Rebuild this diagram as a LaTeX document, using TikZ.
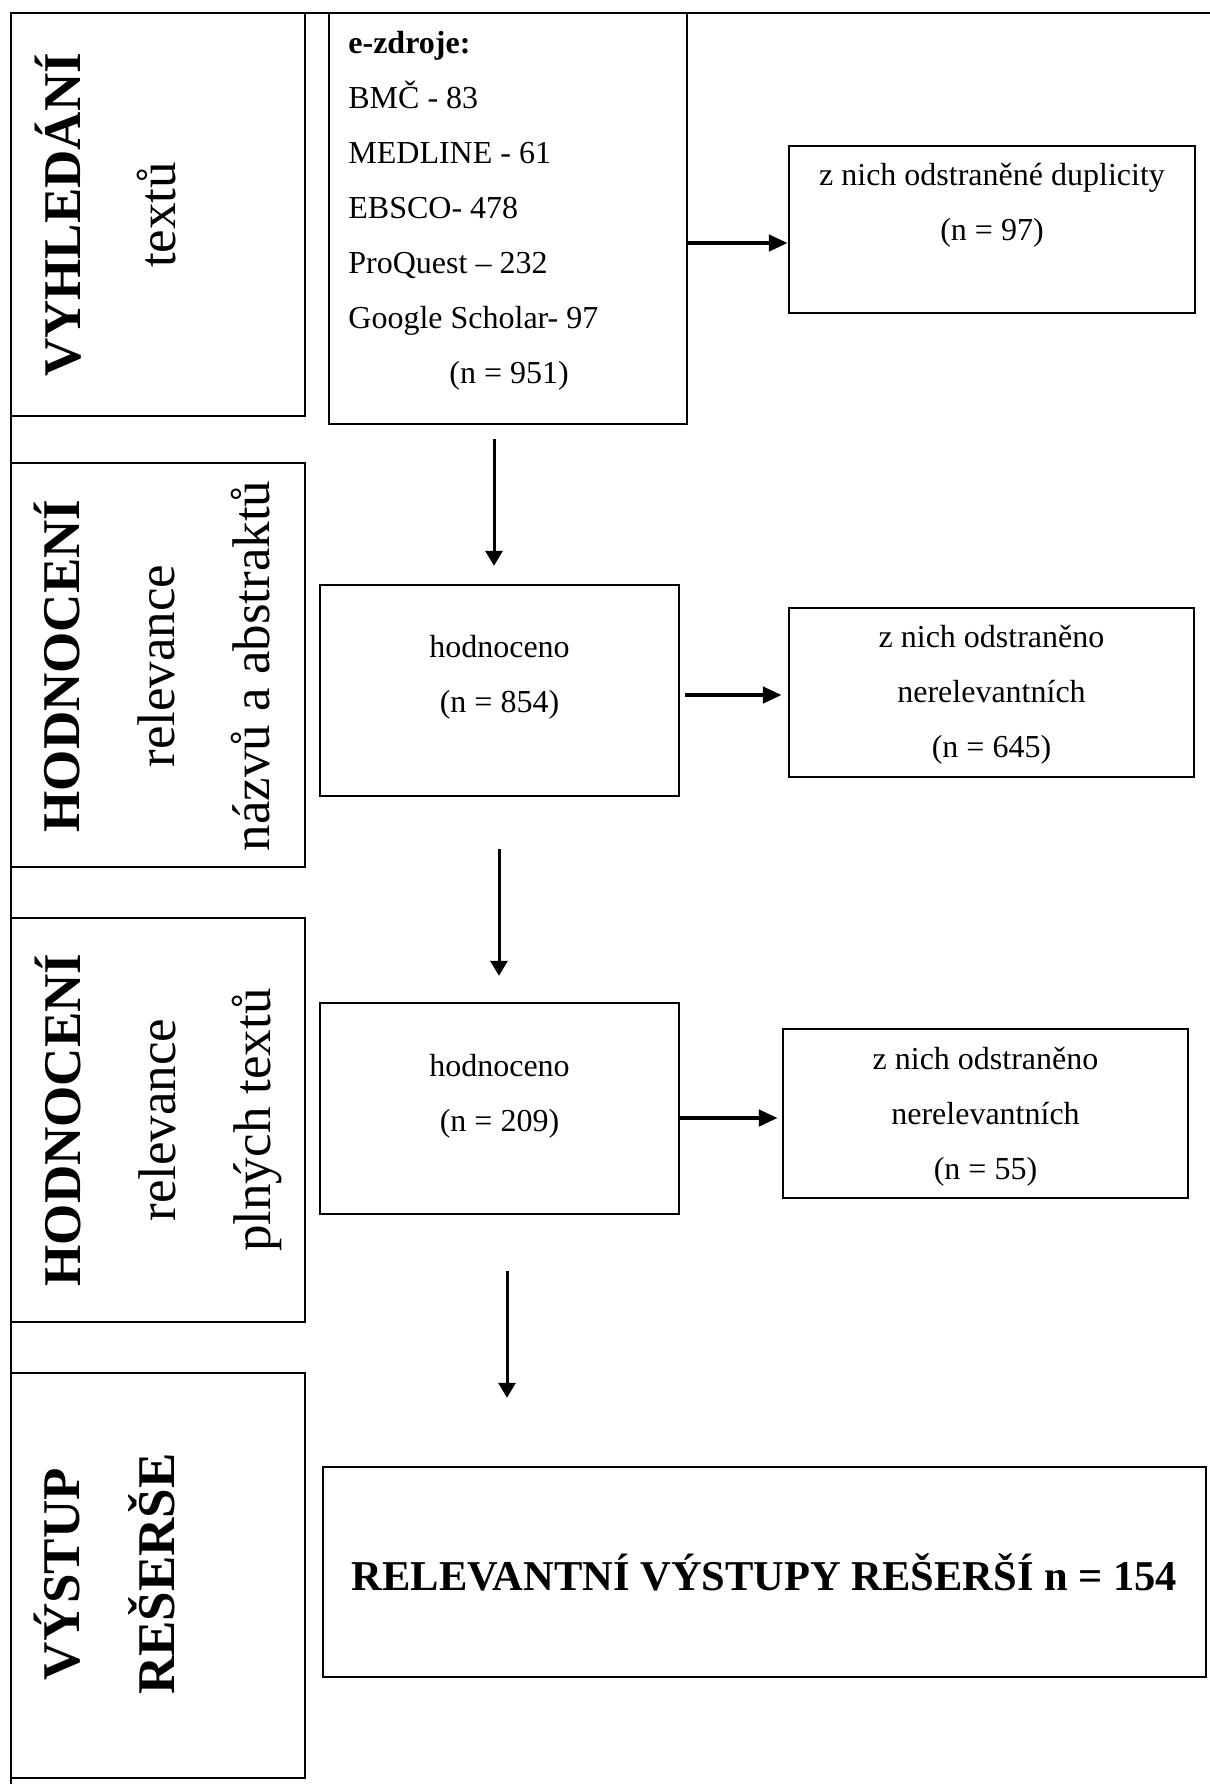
\documentclass[tikz,border=0pt]{standalone}
\usepackage{fontspec}
\setmainfont{Liberation Serif}
\usetikzlibrary{arrows.meta}

\begin{document}
\begin{tikzpicture}[x=0.5pt, y=-0.5pt,
			box/.style={draw, line width=1.2pt, inner sep=0pt},
			txt/.style={align=center, inner sep=0pt, font=\fontsize{16}{27.5}\selectfont},
			stagetxt/.style={rotate=90, align=center, inner sep=0pt, font=\fontsize{26.5}{47.5}\selectfont},
			downarrow/.style={-{Triangle[length=7.5pt,width=8.5pt]}, line width=1.5pt},
			sidearrow/.style={-{Triangle[length=9.5pt,width=8pt]}, line width=2.25pt}]
			\useasboundingbox (0,0) rectangle (1210,1784);
			% frame
			\draw[line width=0.8pt] (10,13) -- (1210,13);
			\draw[line width=0.8pt] (11,13) -- (11,1784);
			% stages
			\node[box, minimum width=147pt, minimum height=201.5pt] (stage1) at (158,214.5) {};
			\node[stagetxt] (stage1txt) at (106,215) {\textbf{VYHLEDÁNÍ}\\ textů};
			\node[box, minimum width=147pt, minimum height=202pt] (stage2) at (158,665) {};
			\node[stagetxt] (stage2txt) at (152.5,666) {\textbf{HODNOCENÍ}\\ relevance\\ názvů a abstraktů};
			\node[box, minimum width=147pt, minimum height=202pt] (stage3) at (158,1120) {};
			\node[stagetxt] (stage3txt) at (158,1120) {\textbf{HODNOCENÍ}\\ relevance\\ plných textů};
			\node[box, minimum width=147pt, minimum height=202.5pt] (stage4) at (158,1575.5) {};
			\node[stagetxt] (stage4txt) at (105,1574) {\textbf{VÝSTUP}\\ \textbf{REŠERŠE}};
			% sources
			\node[box, minimum width=179pt, minimum height=205.5pt] (zdroje) at (508,218.5) {};
			\node[txt, align=left, anchor=north west] (zdrojetxt) at (348,31) {\textbf{e-zdroje:}\\ BMČ - 83\\ MEDLINE - 61\\ EBSCO- 478\\ ProQuest – 232\\ Google Scholar- 97\\ \hspace*{50.5pt}(n = 951)};
			\node[box, minimum width=203pt, minimum height=83.5pt] (dup) at (992,229.5) {};
			\node[txt] (duptxt) at (992,205.4) {z nich odstraněné duplicity\\ (n = 97)};
			% titles and abstracts
			\node[box, minimum width=179.5pt, minimum height=105.5pt] (hod1) at (499.5,690.5) {};
			\node[txt] (hod1txt) at (499.5,677.4) {hodnoceno\\ (n = 854)};
			\node[box, minimum width=202.5pt, minimum height=84.5pt] (rem1) at (991.5,692.5) {};
			\node[txt] (rem1txt) at (991.5,694.9) {z nich odstraněno\\ nerelevantních\\ (n = 645)};
			% full texts
			\node[box, minimum width=179.5pt, minimum height=105.5pt] (hod2) at (499.5,1108.5) {};
			\node[txt] (hod2txt) at (499.5,1096.4) {hodnoceno\\ (n = 209)};
			\node[box, minimum width=202.5pt, minimum height=84.5pt] (rem2) at (985.5,1113.5) {};
			\node[txt] (rem2txt) at (985.5,1116.9) {z nich odstraněno\\ nerelevantních\\ (n = 55)};
			% result
			\node[box, minimum width=441.5pt, minimum height=105pt, font=\bfseries\fontsize{21.25}{25}\selectfont] (result) at (764.5,1572) {RELEVANTNÍ VÝSTUPY REŠERŠÍ n = 154};
			% arrows
			\draw[downarrow, shorten <=7pt, shorten >=9pt] (zdroje.south -| 494,0) -- (hod1.north -| 494,0);
			\draw[downarrow, shorten <=26pt, shorten >=13pt] (hod1.south -| 499,0) -- (hod2.north -| 499,0);
			\draw[downarrow, shorten <=28pt, shorten >=34pt] (hod2.south -| 507,0) -- (result.north -| 507,0);
			\draw[sidearrow] (zdroje.east |- 0,243) -- (dup.west |- 0,243);
			\draw[sidearrow, shorten <=2.5pt, shorten >=3pt] (hod1.east |- 0,695) -- (rem1.west |- 0,695);
			\draw[sidearrow, shorten >=2pt] (hod2.east |- 0,1118) -- (rem2.west |- 0,1118);
		\end{tikzpicture}
\end{document}
